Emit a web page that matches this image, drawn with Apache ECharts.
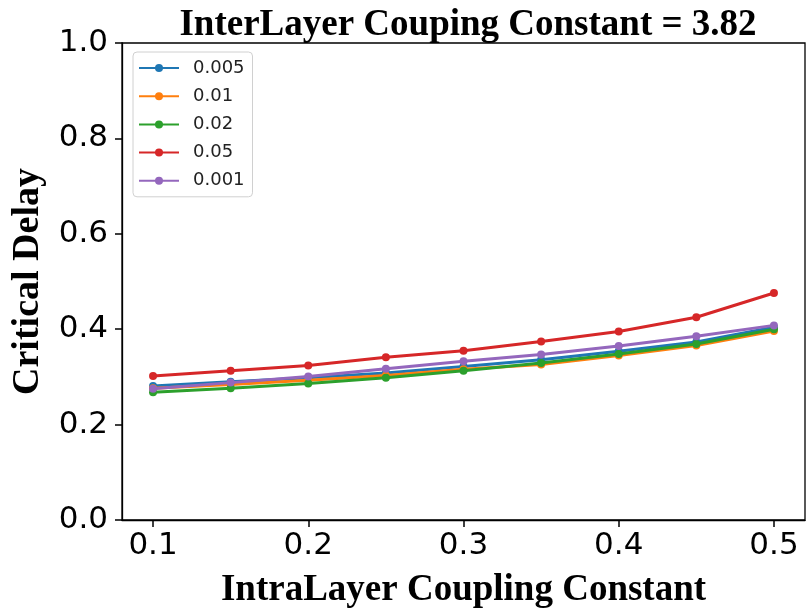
<!DOCTYPE html>
<html>
<head>
<meta charset="utf-8">
<script src="https://cdn.jsdelivr.net/npm/echarts@6/dist/echarts.min.js"></script>
<style>html,body{margin:0;padding:0;background:#fff}#c{width:806px;height:614px}</style>
</head>
<body>
<div id="c"></div>
<script>
var xValues = [0.1, 0.15, 0.2, 0.25, 0.3, 0.35, 0.4, 0.45, 0.5];
var xTicks = [0.1, 0.2, 0.3, 0.4, 0.5];
var yTicks = [0.0, 0.2, 0.4, 0.6, 0.8, 1.0];
var seriesNames = ['0.005', '0.01', '0.02', '0.05', '0.001'];
var s0005 = [0.281, 0.290, 0.298, 0.308, 0.322, 0.336, 0.354, 0.373, 0.404];
var s001  = [0.276, 0.284, 0.293, 0.303, 0.316, 0.326, 0.345, 0.366, 0.396];
var s002  = [0.268, 0.276, 0.286, 0.298, 0.313, 0.329, 0.348, 0.369, 0.400];
var s005  = [0.302, 0.313, 0.324, 0.341, 0.355, 0.374, 0.395, 0.425, 0.476];
var s0001 = [0.275, 0.288, 0.301, 0.317, 0.333, 0.347, 0.365, 0.385, 0.408];
var colors = ['#1f77b4', '#ff7f0e', '#2ca02c', '#d62728', '#9467bd'];
var allData = [s0005, s001, s002, s005, s0001];

function pairs(arr) { return arr.map(function (v, i) { return [xValues[i], v]; }); }

var chart = echarts.init(document.getElementById('c'), null, {renderer: 'canvas'});
var series = seriesNames.map(function (n, i) {
  return {
    name: n, type: 'line', data: pairs(allData[i]),
    symbol: 'circle', symbolSize: 8,
    lineStyle: {width: 3, color: colors[i]},
    itemStyle: {color: colors[i]},
    z: 2 + i
  };
});

chart.setOption({
  animation: false,
  title: {
    text: 'InterLayer Couping Constant = 3.82',
    left: 463, textAlign: 'center', top: 2,
    textStyle: {fontFamily: 'Liberation Serif', fontWeight: 'bold', fontSize: 37, color: '#000'}
  },
  legend: {
    left: 133, top: 52, orient: 'vertical',
    data: seriesNames,
    itemWidth: 40, itemHeight: 10, itemGap: 10.2,
    padding: [7, 8, 7, 5],
    borderColor: '#d0d0d0', borderWidth: 1, borderRadius: 4,
    textStyle: {fontFamily: 'DejaVu Sans', fontSize: 18, color: '#222', padding: [0, 0, 0, 9]}
  },
  grid: {left: 122, right: 1, top: 43, bottom: 91, show: true, borderColor: '#000', borderWidth: 1.3, backgroundColor: 'transparent'},
  xAxis: {
    type: 'value', min: 0.08, max: 0.52,
    name: 'IntraLayer Coupling Constant', nameLocation: 'middle', nameGap: 52,
    nameTextStyle: {fontFamily: 'Liberation Serif', fontWeight: 'bold', fontSize: 37, color: '#000'},
    axisLine: {show: true, lineStyle: {color: '#000', width: 1.3}},
    axisTick: {show: true, customValues: xTicks, length: 7, lineStyle: {color: '#000', width: 1.5}},
    axisLabel: {customValues: xTicks, margin: 10, fontFamily: 'DejaVu Sans', fontSize: 31, color: '#000',
      formatter: function (v) { return v.toFixed(1); }},
    splitLine: {show: false}
  },
  yAxis: {
    type: 'value', min: 0, max: 1, interval: 0.2,
    name: 'Critical Delay', nameLocation: 'middle', nameGap: 75, nameRotate: 90,
    nameTextStyle: {fontFamily: 'Liberation Serif', fontWeight: 'bold', fontSize: 38, color: '#000'},
    axisLine: {show: true, lineStyle: {color: '#000', width: 1.3}},
    axisTick: {show: true, length: 7, lineStyle: {color: '#000', width: 1.5}},
    axisLabel: {margin: 14, fontFamily: 'DejaVu Sans', fontSize: 31, color: '#000',
      formatter: function (v) { return v.toFixed(1); }},
    splitLine: {show: false}
  },
  series: series
});
</script>
</body>
</html>
